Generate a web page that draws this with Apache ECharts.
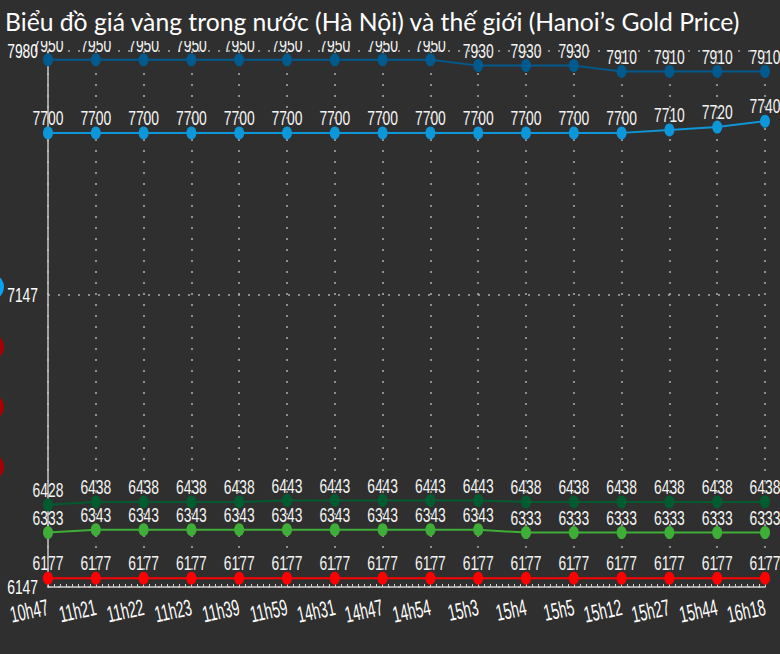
<!DOCTYPE html>
<html><head><meta charset="utf-8">
<script src="https://cdn.jsdelivr.net/npm/echarts@6/dist/echarts.min.js"></script>
<style>html,body{margin:0;padding:0;background:#2f2f2f;}#c{width:780px;height:654px;}</style>
</head><body><div id="c"></div>
<script>
const categories = ['10h47','11h21','11h22','11h23','11h39','11h59','14h31','14h47','14h54','15h3','15h4','15h5','15h12','15h27','15h44','16h18'];
const hnSell = [7950,7950,7950,7950,7950,7950,7950,7950,7950,7930,7930,7930,7910,7910,7910,7910];
const hnBuy = [7700,7700,7700,7700,7700,7700,7700,7700,7700,7700,7700,7700,7700,7710,7720,7740];
const worldSell = [6428,6438,6438,6438,6438,6443,6443,6443,6443,6443,6438,6438,6438,6438,6438,6438];
const worldBuy = [6333,6343,6343,6343,6343,6343,6343,6343,6343,6343,6333,6333,6333,6333,6333,6333];
const worldRef = [6177,6177,6177,6177,6177,6177,6177,6177,6177,6177,6177,6177,6177,6177,6177,6177];
const seriesNames = ['HN bán ra','HN mua vào','TG bán ra','TG mua vào','TG tham chiếu'];
const seriesColors = ['#005a8e','#0d96d8','#005c2e','#3fae38','#ff0000'];
const yMin = 6147, yMax = 7980, yStep = 1000;

const chart = echarts.init(document.getElementById('c'), null, {renderer: 'svg'});
const dataSets = [hnSell, hnBuy, worldSell, worldBuy, worldRef];
const labelFont = "'Liberation Sans', Arial, sans-serif";
chart.setOption({
  backgroundColor: '#2f2f2f',
  animation: false,
  title: {
    text: 'Biểu đồ giá vàng trong nước (Hà Nội) và thế giới (Hanoi’s Gold Price)',
    left: 0, top: 0, padding: [9, 5, 7, 5], backgroundColor: '#2f2f2f',
    textStyle: {color: '#ffffff', fontFamily: 'Lato', fontWeight: 'normal', fontSize: 24.7}
  },
  legend: {
    orient: 'vertical', left: -27, top: 269, itemWidth: 26, itemHeight: 26, itemGap: 34,
    icon: 'circle', formatter: () => '', selectedMode: false,
    data: [
      {name: seriesNames[1], itemStyle: {color: '#0aa2f2'}},
      {name: seriesNames[0], itemStyle: {color: '#a80000'}},
      {name: seriesNames[2], itemStyle: {color: '#a80000'}},
      {name: seriesNames[4], itemStyle: {color: '#a80000'}}
    ]
  },
  grid: {left: 48, right: 15, top: 51, bottom: 67, containLabel: false, outerBoundsMode: 'none'},
  xAxis: [{
    type: 'category', data: categories, boundaryGap: false,
    axisLine: {lineStyle: {color: '#d0d0d0', width: 1.5}},
    axisTick: {show: false},
    axisLabel: {color: '#ffffff', fontFamily: labelFont, fontSize: 23, rotate: 12, margin: 20, interval: 0},
    splitLine: {show: true, lineStyle: {color: '#b0b0b0', type: [2, 9], width: 1.5}}
  }, {
    type: 'value', min: 0, max: categories.length - 1, interval: 1, position: 'bottom',
    axisLine: {show: false}, axisLabel: {show: false}, splitLine: {show: false},
    axisTick: {show: true, inside: true, length: 4, lineStyle: {color: '#d0d0d0'}},
    minorTick: {show: true, splitNumber: 8, length: 3, lineStyle: {color: '#d0d0d0'}}
  }],
  yAxis: {
    type: 'value', min: yMin, max: yMax, interval: yStep,
    axisLine: {show: true, lineStyle: {color: '#c8c8c8', width: 1.5}},
    axisTick: {show: false},
    axisLabel: {color: '#ffffff', fontFamily: labelFont, fontSize: 21, margin: 10, formatter: v => String(v)},
    splitLine: {show: true, lineStyle: {color: '#b0b0b0', type: [2, 8], width: 1.5}}
  },
  series: dataSets.map((d, i) => ({
    name: seriesNames[i], type: 'line', data: d,
    symbol: 'circle', symbolSize: [10, 13],
    lineStyle: {color: seriesColors[i], width: 2},
    itemStyle: {color: seriesColors[i]},
    label: {show: true, position: 'top', distance: -2, color: '#f4f4f4', textBorderWidth: 0,
            fontFamily: labelFont, fontSize: 21}
  }))
});
// narrow the Arial-like labels horizontally, as in the reference's condensed figures
function condense() {
  document.querySelectorAll('#c text').forEach(t => {
    const st = t.getAttribute('style') || '';
    const tr = t.getAttribute('transform') || '';
    if (st.indexOf('Liberation') >= 0 && tr.indexOf('scale(') < 0) {
      const k = st.indexOf('23px') >= 0 ? 0.6 : 0.66;
      t.setAttribute('transform', tr + ' scale(' + k + ' 1)');
    }
  });
}
condense();
chart.on('finished', condense);
</script></body></html>
